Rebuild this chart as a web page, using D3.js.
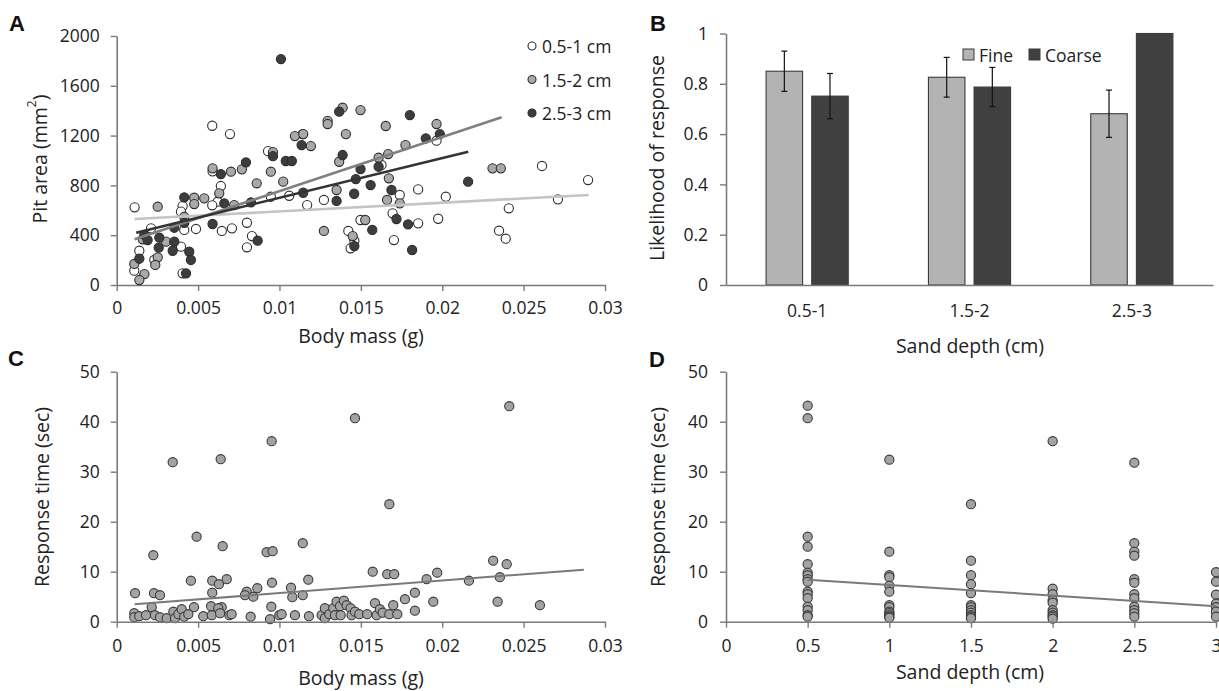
<!DOCTYPE html>
<html>
<head>
<meta charset="utf-8">
<script src="https://cdn.jsdelivr.net/npm/d3@7"></script>
<style>
  body { margin: 0; background: #fff; }
  svg { display: block; font-family: "Open Sans", sans-serif; }
  .tick text { fill: #222; }
</style>
</head>
<body>
<script>
// ---- data ----
// Panel A: pit area vs body mass, one array per sand depth [mass g, area mm2]
var pitSmall = [
  [0.0011, 624], [0.00405, 634], [0.00395, 589], [0.00415, 442], [0.00487, 450],
  [0.00211, 455], [0.00395, 308], [0.00139, 275], [0.00231, 201], [0.00108, 115],
  [0.00405, 94], [0.00589, 913], [0.0064, 795], [0.0062, 669], [0.00587, 640],
  [0.00646, 434], [0.00708, 455], [0.008, 500], [0.00831, 393], [0.008, 303],
  [0.0093, 1075], [0.00947, 709], [0.0106, 717], [0.00587, 1279], [0.00696, 1212],
  [0.01142, 1212], [0.0117, 642], [0.01273, 683], [0.01627, 964], [0.01965, 1159],
  [0.01739, 723], [0.01852, 768], [0.02022, 709], [0.02613, 956], [0.02896, 843],
  [0.02711, 688], [0.02409, 616], [0.02349, 436], [0.0239, 372], [0.01975, 532],
  [0.01852, 495], [0.01695, 576], [0.01423, 434], [0.0146, 356], [0.01437, 295],
  [0.01498, 522], [0.01703, 361]
];
var pitMedium = [
  [0.00252, 629], [0.00476, 701], [0.00476, 650], [0.00538, 696], [0.00415, 548],
  [0.0016, 367], [0.00303, 348], [0.00252, 222], [0.00237, 161], [0.00108, 169],
  [0.0017, 88], [0.00139, 40], [0.00589, 937], [0.00702, 910], [0.00769, 929],
  [0.0063, 736], [0.00722, 642], [0.0086, 817], [0.00947, 910], [0.01023, 830],
  [0.01095, 1196], [0.0096, 1068], [0.01146, 1212], [0.01193, 1116], [0.01296, 1319],
  [0.01296, 1293], [0.01388, 1424], [0.01498, 1405], [0.01408, 1212], [0.01367, 990],
  [0.01609, 1022], [0.01668, 1052], [0.01672, 857], [0.01653, 1277], [0.01774, 1124],
  [0.01965, 1293], [0.01351, 763], [0.01661, 683], [0.01739, 656], [0.02309, 937],
  [0.0236, 937], [0.01273, 434], [0.0145, 393], [0.01527, 522]
];
var pitDeep = [
  [0.00415, 704], [0.00415, 500], [0.00354, 460], [0.0017, 402], [0.0019, 361],
  [0.00262, 380], [0.00354, 348], [0.00258, 300], [0.00344, 275], [0.00139, 211],
  [0.00446, 267], [0.00456, 201], [0.00426, 94], [0.0064, 891], [0.00794, 985],
  [0.00661, 656], [0.00825, 664], [0.00589, 490], [0.00866, 356], [0.0096, 1035],
  [0.01039, 996], [0.01076, 996], [0.01009, 1815], [0.01136, 1124], [0.01146, 741],
  [0.01367, 1392], [0.01388, 1044], [0.01498, 931], [0.01609, 950], [0.01801, 1365],
  [0.01899, 1178], [0.01985, 1212], [0.01469, 851], [0.01351, 675], [0.01459, 733],
  [0.0156, 803], [0.01688, 763], [0.02159, 830], [0.0179, 487], [0.01719, 530],
  [0.0146, 313], [0.0157, 442], [0.01815, 281]
];
var depthNames = ["0.5-1 cm", "1.5-2 cm", "2.5-3 cm"];
// fitted lines as drawn in panel A [mass0, area0, mass1, area1]
var pitTrends = [
  [0.0011, 530, 0.029, 723],
  [0.0011, 367, 0.02365, 1347],
  [0.0012, 420, 0.0216, 1070]
];
var massTicks = [0, 0.005, 0.01, 0.015, 0.02, 0.025, 0.03];
var areaTicks = [0, 400, 800, 1200, 1600, 2000];

// Panel B: likelihood of response
var depthCats = ["0.5-1", "1.5-2", "2.5-3"];
var sandTypes = ["Fine", "Coarse"];
var fineLikelihood = [0.85, 0.826, 0.681];
var coarseLikelihood = [0.751, 0.787, 1.0];
var fineErr = [0.08, 0.079, 0.094];
var coarseErr = [0.09, 0.078, 0];
var likeTicks = [0, 0.2, 0.4, 0.6, 0.8, 1];

// Panel C: response time vs body mass [mass g, sec]
var respMass = [
  [0.00113, 5.7], [0.00225, 13.3], [0.00344, 31.9], [0.00491, 17.0], [0.00639, 32.5],
  [0.00651, 15.1], [0.00952, 36.1], [0.00921, 13.9], [0.00958, 14.1], [0.00229, 5.7],
  [0.00266, 5.3], [0.00456, 8.2], [0.00587, 8.2], [0.00628, 7.5], [0.00676, 8.5],
  [0.00587, 5.8], [0.00799, 6.0], [0.00788, 5.3], [0.00864, 6.7], [0.00839, 5.0],
  [0.00954, 7.8], [0.01071, 6.8], [0.01079, 4.9], [0.01143, 15.7], [0.01177, 8.4],
  [0.01143, 5.3], [0.00215, 2.9], [0.00645, 2.9], [0.0058, 3.1], [0.00475, 2.9],
  [0.0095, 3.0], [0.00108, 1.7], [0.00108, 0.9], [0.00139, 1.1], [0.0018, 1.3],
  [0.00235, 1.3], [0.00266, 0.9], [0.00307, 0.7], [0.00348, 2.0], [0.00358, 0.7],
  [0.00379, 1.5], [0.00399, 2.5], [0.00415, 1.0], [0.0044, 1.5], [0.00532, 1.1],
  [0.00584, 1.3], [0.00624, 2.7], [0.00635, 1.7], [0.00692, 1.3], [0.00706, 1.5],
  [0.00823, 1.0], [0.00942, 0.5], [0.00999, 1.3], [0.01013, 1.5], [0.01095, 1.3],
  [0.01181, 1.1], [0.01259, 1.3], [0.01279, 2.7], [0.01279, 0.7], [0.01306, 1.5],
  [0.01331, 2.7], [0.01341, 1.3], [0.01351, 4.0], [0.01372, 3.1], [0.01376, 1.3],
  [0.01396, 4.2], [0.01413, 3.3], [0.01437, 2.7], [0.01443, 1.3], [0.01464, 2.0],
  [0.0149, 1.5], [0.01539, 1.5], [0.01587, 3.7], [0.01597, 1.3], [0.01617, 2.5],
  [0.01634, 1.8], [0.01675, 1.5], [0.01699, 3.3], [0.01724, 1.5], [0.01771, 4.5],
  [0.01832, 5.8], [0.01832, 2.2], [0.01945, 4.0], [0.0234, 4.0], [0.026, 3.3],
  [0.01464, 40.7], [0.02412, 43.1], [0.01675, 23.5], [0.01573, 10.0], [0.01662, 9.5],
  [0.01705, 9.5], [0.01969, 9.8], [0.01904, 8.5], [0.02164, 8.2], [0.02313, 12.2],
  [0.02396, 11.5], [0.02354, 8.9]
];
var respMassTrend = [0.0011, 3.5, 0.0287, 10.4];
var timeTicks = [0, 10, 20, 30, 40, 50];

// Panel D: response time vs sand depth
var depthLevels = [0.5, 1, 1.5, 2, 2.5, 3];
var depthTimes = [
  [43.2, 40.7, 17.0, 15.0, 11.5, 9.8, 9.3, 8.5, 8.0, 6.0, 5.5, 4.7, 3.0, 2.3, 1.3, 1.0],
  [32.4, 14.0, 9.3, 8.9, 7.2, 6.0, 3.3, 2.9, 2.0, 1.7, 1.3, 1.0, 0.8],
  [23.5, 12.2, 9.3, 7.5, 5.7, 3.3, 2.9, 2.3, 1.8, 1.3, 1.0, 0.7],
  [36.1, 6.6, 5.5, 4.3, 3.8, 2.3, 1.8, 1.3, 1.0, 0.6],
  [31.8, 15.7, 14.0, 13.2, 8.5, 7.8, 5.5, 4.7, 3.0, 2.3, 1.7, 1.0],
  [9.9, 8.0, 5.4, 3.6, 2.9, 2.0, 1.0]
];
var depthTrend = [0.5, 8.4, 3, 3.1];
var depthTicks = [0, 0.5, 1, 1.5, 2, 2.5, 3];

// ---- drawing ----
var width = 1219, height = 691;
var svg = d3.select("body").append("svg")
  .attr("width", width).attr("height", height);

var axisColor = "#7a7a7a";
var tickFont = 17.5;
var titleFont = 19.5;

function styleAxis(g) {
  g.select(".domain").attr("stroke", axisColor).attr("stroke-width", 1.6);
  g.selectAll(".tick line").attr("stroke", axisColor).attr("stroke-width", 1.4);
  g.selectAll(".tick text").attr("font-size", tickFont).attr("font-family", "Open Sans");
}

function fmt(d) {
  return String(+d.toFixed(3));
}

function panelLetter(txt, x, y) {
  svg.append("text").attr("x", x).attr("y", y)
    .attr("font-family", "Liberation Sans").attr("font-weight", "bold")
    .attr("font-size", 22).attr("fill", "#111").text(txt);
}

function yTitle(txt, x, y) {
  return svg.append("text")
    .attr("transform", "translate(" + x + "," + y + ") rotate(-90)")
    .attr("text-anchor", "middle").attr("dominant-baseline", "central")
    .attr("font-size", titleFont).attr("fill", "#222").text(txt);
}

function xTitle(txt, x, y) {
  return svg.append("text").attr("x", x).attr("y", y)
    .attr("text-anchor", "middle").attr("dominant-baseline", "central")
    .attr("font-size", titleFont).attr("fill", "#222").text(txt);
}

// ===== Panel A =====
var xA = d3.scaleLinear().domain([0, 0.03]).range([116.7, 605]);
var yA = d3.scaleLinear().domain([0, 2000]).range([285, 36]);
var seriesFill = ["#ffffff", "#a9a9a9", "#3d3d3d"];
var trendColor = ["#c4c4c4", "#808080", "#333333"];

svg.append("g").attr("transform", "translate(0," + yA(0) + ")")
  .call(d3.axisBottom(xA).tickValues(massTicks).tickFormat(fmt).tickSize(6).tickSizeOuter(0).tickPadding(11))
  .call(styleAxis);
svg.append("g").attr("transform", "translate(" + xA(0) + ",0)")
  .call(d3.axisLeft(yA).tickValues(areaTicks).tickFormat(fmt).tickSize(6).tickSizeOuter(0).tickPadding(11))
  .call(styleAxis);

[pitSmall, pitMedium, pitDeep].forEach(function (pts, i) {
  svg.append("g").selectAll("circle").data(pts).enter().append("circle")
    .attr("cx", function (d) { return xA(d[0]); })
    .attr("cy", function (d) { return yA(d[1]); })
    .attr("r", 4.6)
    .attr("fill", seriesFill[i])
    .attr("stroke", "#2e2e2e").attr("stroke-width", 1.1);
});
svg.append("g").selectAll("line").data(pitTrends).enter().append("line")
  .attr("x1", function (d) { return xA(d[0]); })
  .attr("y1", function (d) { return yA(d[1]); })
  .attr("x2", function (d) { return xA(d[2]); })
  .attr("y2", function (d) { return yA(d[3]); })
  .attr("stroke", function (d, i) { return trendColor[i]; })
  .attr("stroke-width", 2.6);

var legA = svg.append("g").selectAll("g").data(depthNames).enter().append("g")
  .attr("transform", function (d, i) { return "translate(532," + (46 + i * 33.5) + ")"; });
legA.append("circle").attr("r", 4).attr("fill", function (d, i) { return seriesFill[i]; })
  .attr("stroke", "#2e2e2e").attr("stroke-width", 1.1);
legA.append("text").attr("x", 10).attr("dominant-baseline", "central")
  .attr("font-size", tickFont).attr("fill", "#222").text(function (d) { return d; });

var tA = yTitle("", 39, 159);
tA.append("tspan").text("Pit area (mm");
tA.append("tspan").attr("font-size", 12).attr("dy", -8).text("2");
tA.append("tspan").attr("dy", 8).text(")");
xTitle("Body mass (g)", 361, 335);
panelLetter("A", 9, 31);

// ===== Panel B =====
var x0 = d3.scaleBand().domain(depthCats).range([726, 1213]).paddingInner(0.494).paddingOuter(0.247);
var x1 = d3.scaleBand().domain(sandTypes).range([0, x0.bandwidth()]).paddingInner(0.2);
var yB = d3.scaleLinear().domain([0, 1]).range([285, 33.5]);
var barFill = { Fine: "#b3b3b3", Coarse: "#404040" };

var barRows = depthCats.map(function (c, i) {
  return [
    { cat: c, type: "Fine", v: fineLikelihood[i], e: fineErr[i] },
    { cat: c, type: "Coarse", v: coarseLikelihood[i], e: coarseErr[i] }
  ];
});
var groups = svg.append("g").selectAll("g").data(barRows).enter().append("g")
  .attr("transform", function (d) { return "translate(" + x0(d[0].cat) + ",0)"; });
groups.selectAll("rect").data(function (d) { return d; }).enter().append("rect")
  .attr("x", function (d) { return x1(d.type); })
  .attr("y", function (d) { return yB(d.v); })
  .attr("width", x1.bandwidth())
  .attr("height", function (d) { return yB(0) - yB(d.v); })
  .attr("fill", function (d) { return barFill[d.type]; })
  .attr("stroke", "#3a3a3a").attr("stroke-width", 1.1);
var errs = groups.selectAll("g.err").data(function (d) { return d.filter(function (r) { return r.e > 0; }); })
  .enter().append("g").attr("class", "err")
  .attr("transform", function (d) { return "translate(" + (x1(d.type) + x1.bandwidth() / 2) + ",0)"; })
  .attr("stroke", "#111").attr("stroke-width", 1.2);
errs.append("line").attr("y1", function (d) { return yB(d.v + d.e); }).attr("y2", function (d) { return yB(d.v - d.e); });
errs.append("line").attr("x1", -3).attr("x2", 3).attr("y1", function (d) { return yB(d.v + d.e); }).attr("y2", function (d) { return yB(d.v + d.e); });
errs.append("line").attr("x1", -3).attr("x2", 3).attr("y1", function (d) { return yB(d.v - d.e); }).attr("y2", function (d) { return yB(d.v - d.e); });

svg.append("g").attr("transform", "translate(0," + yB(0) + ")")
  .call(d3.axisBottom(x0).tickSize(0).tickSizeOuter(0).tickPadding(20))
  .call(styleAxis);
svg.append("g").attr("transform", "translate(" + x0.range()[0] + ",0)")
  .call(d3.axisLeft(yB).tickValues(likeTicks).tickFormat(fmt).tickSize(6).tickSizeOuter(0).tickPadding(12))
  .call(styleAxis);

var legB = svg.append("g").selectAll("g").data(sandTypes).enter().append("g")
  .attr("transform", function (d, i) { return "translate(" + (963 + i * 66) + ",49)"; });
legB.append("rect").attr("width", 11).attr("height", 11)
  .attr("fill", function (d) { return barFill[d]; }).attr("stroke", "#3a3a3a").attr("stroke-width", 1);
legB.append("text").attr("x", 16).attr("y", 6).attr("dominant-baseline", "central")
  .attr("font-size", tickFont).attr("fill", "#222").text(function (d) { return d; });

yTitle("Likelihood of response", 656, 158);
xTitle("Sand depth (cm)", 970, 345);
panelLetter("B", 650, 31);

// ===== Panel C =====
var xC = d3.scaleLinear().domain([0, 0.03]).range([116.7, 605]);
var yC = d3.scaleLinear().domain([0, 50]).range([621.7, 371.7]);
var dotFill = "#a3a3a3";

svg.append("g").selectAll("circle").data(respMass).enter().append("circle")
  .attr("cx", function (d) { return xC(d[0]); })
  .attr("cy", function (d) { return yC(d[1]); })
  .attr("r", 4.6).attr("fill", dotFill)
  .attr("stroke", "#3a3a3a").attr("stroke-width", 1.1);
svg.append("line")
  .attr("x1", xC(respMassTrend[0])).attr("y1", yC(respMassTrend[1]))
  .attr("x2", xC(respMassTrend[2])).attr("y2", yC(respMassTrend[3]))
  .attr("stroke", "#7a7a7a").attr("stroke-width", 2);
svg.append("g").attr("transform", "translate(0," + yC(0) + ")")
  .call(d3.axisBottom(xC).tickValues(massTicks).tickFormat(fmt).tickSize(6).tickSizeOuter(0).tickPadding(12))
  .call(styleAxis);
svg.append("g").attr("transform", "translate(" + xC(0) + ",0)")
  .call(d3.axisLeft(yC).tickValues(timeTicks).tickFormat(fmt).tickSize(6).tickSizeOuter(0).tickPadding(11))
  .call(styleAxis);
yTitle("Response time (sec)", 41, 497);
xTitle("Body mass (g)", 361, 677);
panelLetter("C", 8, 366);

// ===== Panel D =====
var xD = d3.scaleLinear().domain([0, 3]).range([726, 1216]);
var yD = d3.scaleLinear().domain([0, 50]).range([621.7, 371.7]);
var depthPts = [];
depthLevels.forEach(function (lv, i) {
  depthTimes[i].forEach(function (t) { depthPts.push([lv, t]); });
});
svg.append("g").selectAll("circle").data(depthPts).enter().append("circle")
  .attr("cx", function (d) { return xD(d[0]); })
  .attr("cy", function (d) { return yD(d[1]); })
  .attr("r", 4.6).attr("fill", dotFill)
  .attr("stroke", "#3a3a3a").attr("stroke-width", 1.1);
svg.append("line")
  .attr("x1", xD(depthTrend[0])).attr("y1", yD(depthTrend[1]))
  .attr("x2", xD(depthTrend[2])).attr("y2", yD(depthTrend[3]))
  .attr("stroke", "#7a7a7a").attr("stroke-width", 2);
svg.append("g").attr("transform", "translate(0," + yD(0) + ")")
  .call(d3.axisBottom(xD).tickValues(depthTicks).tickFormat(fmt).tickSize(6).tickSizeOuter(0).tickPadding(12))
  .call(styleAxis);
svg.append("g").attr("transform", "translate(" + xD(0) + ",0)")
  .call(d3.axisLeft(yD).tickValues(timeTicks).tickFormat(fmt).tickSize(6).tickSizeOuter(0).tickPadding(12))
  .call(styleAxis);
yTitle("Response time (sec)", 657, 497);
xTitle("Sand depth (cm)", 970, 671);
panelLetter("D", 649, 367);
</script>
</body>
</html>
